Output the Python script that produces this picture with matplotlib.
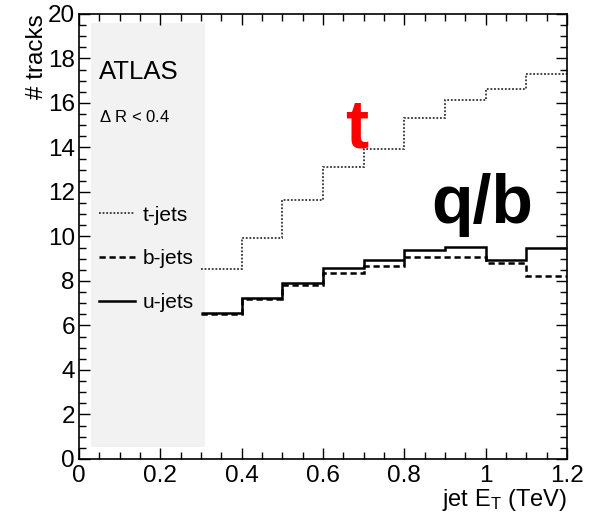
import numpy as np
import matplotlib
matplotlib.use('Agg')
import matplotlib.pyplot as plt
from matplotlib.ticker import MultipleLocator
from matplotlib.lines import Line2D

plt.rcParams['font.family'] = ['Liberation Sans', 'DejaVu Sans']
plt.rcParams['mathtext.default'] = 'regular'

# bin edges of jet ET (TeV)
edges = [0.3, 0.4, 0.5, 0.6, 0.7, 0.8, 0.9, 1.0, 1.1, 1.2]

# mean number of tracks per bin
t_jets = [8.52, 9.95, 11.64, 13.11, 13.95, 15.31, 16.13, 16.61, 17.29]
b_jets = [6.50, 7.18, 7.82, 8.37, 8.67, 9.06, 9.09, 8.79, 8.22]
u_jets = [6.55, 7.22, 7.89, 8.57, 8.94, 9.39, 9.54, 8.94, 9.47]

fig = plt.figure(figsize=(5.95, 5.16), dpi=100)
ax = fig.add_axes([0.1328, 0.1105, 0.8202, 0.8624])

# grey band on the left
ax.axvspan(0.03, 0.31, ymin=0.0275, ymax=0.979, color='#f2f2f2', lw=0, zorder=0)

t_style = dict(color='#333333', lw=1.3, linestyle=(0, (1, 1)))
b_style = dict(color='black', lw=1.8, linestyle=(0, (2.5, 1.5)))
u_style = dict(color='black', lw=1.8, linestyle='-')

ax.stairs(t_jets, edges, baseline=None, zorder=2, **t_style)
ax.stairs(b_jets, edges, baseline=None, zorder=3, **b_style)
ax.stairs(u_jets, edges, baseline=None, zorder=4, **u_style)

ax.set_xlim(0, 1.2)
ax.set_ylim(0, 20)
ax.xaxis.set_minor_locator(MultipleLocator(0.05))
ax.yaxis.set_major_locator(MultipleLocator(2))
ax.yaxis.set_minor_locator(MultipleLocator(0.5))
ax.set_xticks([0, 0.2, 0.4, 0.6, 0.8, 1.0, 1.2])
ax.set_xticklabels(['0', '0.2', '0.4', '0.6', '0.8', '1', '1.2'])

ax.tick_params(which='both', direction='in', top=True, right=True,
               labelsize=17.5, width=1)
ax.tick_params(which='major', length=8)
ax.tick_params(which='minor', length=5)
ax.tick_params(axis='y', pad=3)
ax.tick_params(axis='x', pad=4)
for s in ax.spines.values():
    s.set_linewidth(1.2)

ax.set_ylabel('# tracks', fontsize=17.5, loc='top')
ax.yaxis.set_label_coords(-0.063, 1.0)
ax.set_xlabel('jet E$_T$ (TeV)', fontsize=17, loc='right')
ax.xaxis.set_label_coords(1.0, -0.062)

ax.text(0.041, 0.853, 'ATLAS', transform=ax.transAxes, fontsize=18.5)
ax.text(0.041, 0.757, r'$\Delta$ R < 0.4', transform=ax.transAxes, fontsize=12)

ax.text(0.684, 14.0, 't', color='red', fontsize=50, fontweight='bold',
        ha='center', va='baseline')
ax.text(0.991, 10.6, 'q/b', color='black', fontsize=49, fontweight='bold',
        ha='center', va='baseline')

leg_handles = [Line2D([], [], **t_style), Line2D([], [], **b_style),
               Line2D([], [], **u_style)]
ax.legend(leg_handles, ['t-jets', 'b-jets', 'u-jets'], loc='upper left',
          bbox_to_anchor=(0.041, 0.569), frameon=False, fontsize=15,
          handlelength=1.73, handletextpad=0.38, labelspacing=1.18,
          borderaxespad=0, borderpad=0)

fig.savefig('out.png', dpi=100)
